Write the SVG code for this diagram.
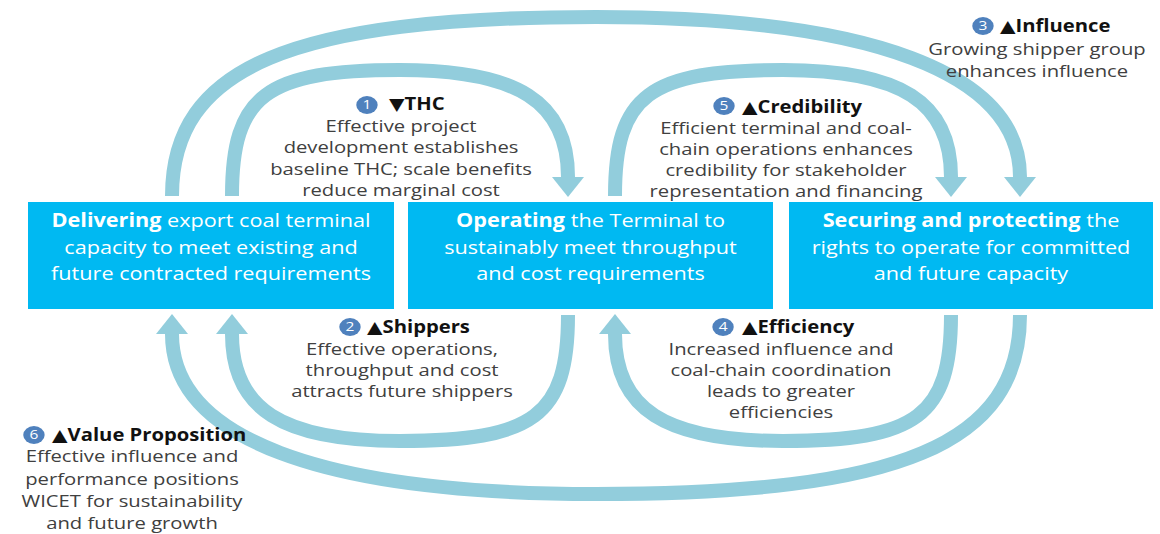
<svg xmlns="http://www.w3.org/2000/svg" width="1160" height="534" viewBox="0 0 1160 534">
<style>
.box{fill:#00B9F2;}
.bt{font-family:"Open Sans","Liberation Sans",sans-serif;font-size:19px;fill:#ffffff;text-anchor:middle;}
.bt .b{font-weight:bold;}
.lb{font-family:"Open Sans","Liberation Sans",sans-serif;font-size:17px;fill:#404040;text-anchor:middle;}
.tt{font-family:"Open Sans","DejaVu Sans",sans-serif;font-size:17px;font-weight:bold;fill:#111111;}
.badge{fill:#4F81BD;}
.num{font-family:"Open Sans","Liberation Sans",sans-serif;font-size:13px;fill:#ffffff;text-anchor:middle;}
.arc{fill:none;stroke:#92CDDC;stroke-width:14;marker-end:url(#ah);}
</style>
<defs>
<marker id="ah" markerUnits="userSpaceOnUse" markerWidth="22" markerHeight="34" viewBox="0 -17 22 34" refX="0" refY="0" orient="auto">
<path d="M0,-16 L20,0 L0,16 Z" fill="#92CDDC"/>
</marker>
</defs>
<rect width="1160" height="534" fill="#ffffff"/>

<g id="connectors">
<path class="arc" d="M172,196 C172,67 291,17 596,17 C872,17 1020,73 1020,177"/>
<path class="arc" d="M232,196 C232,95 266,70 400,70 C518,70 568,102 568,177"/>
<path class="arc" d="M615,196 C615,95 649,70 783,70 C901,70 951,102 951,177"/>
<path class="arc" d="M568,315 C568,416 534,441 400,441 C282,441 232,409 232,334"/>
<path class="arc" d="M951,315 C951,416 917,441 783,441 C665,441 615,409 615,334"/>
<path class="arc" d="M1020,315 C1020,444 901,494 596,494 C320,494 172,438 172,334"/>
</g>

<g id="node-delivering">
<rect class="box" x="28" y="202" width="366" height="107"/>
<g transform="translate(211,0) scale(1.14,1)">
<text class="bt" x="0" y="227"><tspan class="b">Delivering</tspan> export coal terminal</text>
<text class="bt" x="0" y="254">capacity to meet existing and</text>
<text class="bt" x="0" y="280">future contracted requirements</text>
</g>
</g>

<g id="node-operating">
<rect class="box" x="408" y="202" width="365" height="107"/>
<g transform="translate(590.5,0) scale(1.14,1)">
<text class="bt" x="0" y="227"><tspan class="b">Operating</tspan> the Terminal to</text>
<text class="bt" x="0" y="254">sustainably meet throughput</text>
<text class="bt" x="0" y="280">and cost requirements</text>
</g>
</g>

<g id="node-securing">
<rect class="box" x="789" y="202" width="364" height="107"/>
<g transform="translate(971,0) scale(1.14,1)">
<text class="bt" x="0" y="227"><tspan class="b">Securing and protecting</tspan> the</text>
<text class="bt" x="0" y="254">rights to operate for committed</text>
<text class="bt" x="0" y="280">and future capacity</text>
</g>
</g>

<g id="label-1" transform="translate(401,0) scale(1.19,1)">
<circle class="badge" cx="-28.6" cy="105" r="9"/>
<text class="num" x="-28.6" y="109.5">1</text>
<text class="tt" x="-10.1" y="110">▼THC</text>
<text class="lb" x="0" y="132">Effective project</text>
<text class="lb" x="0" y="153">development establishes</text>
<text class="lb" x="0" y="175">baseline THC; scale benefits</text>
<text class="lb" x="0" y="196">reduce marginal cost</text>
</g>

<g id="label-2" transform="translate(402,0) scale(1.19,1)">
<circle class="badge" cx="-43.7" cy="327" r="9"/>
<text class="num" x="-43.7" y="331.5">2</text>
<text class="tt" x="-29.4" y="333">▲Shippers</text>
<text class="lb" x="0" y="355">Effective operations,</text>
<text class="lb" x="0" y="376">throughput and cost</text>
<text class="lb" x="0" y="397">attracts future shippers</text>
</g>

<g id="label-3" transform="translate(1037,0) scale(1.19,1)">
<circle class="badge" cx="-45.4" cy="26" r="9"/>
<text class="num" x="-45.4" y="30.5">3</text>
<text class="tt" x="-31.1" y="32">▲Influence</text>
<text class="lb" x="0" y="55">Growing shipper group</text>
<text class="lb" x="0" y="77">enhances influence</text>
</g>

<g id="label-4" transform="translate(781,0) scale(1.19,1)">
<circle class="badge" cx="-48.7" cy="327" r="9"/>
<text class="num" x="-48.7" y="331.5">4</text>
<text class="tt" x="-32.8" y="333">▲Efficiency</text>
<text class="lb" x="0" y="355">Increased influence and</text>
<text class="lb" x="0" y="376">coal-chain coordination</text>
<text class="lb" x="0" y="397">leads to greater</text>
<text class="lb" x="0" y="418">efficiencies</text>
</g>

<g id="label-5" transform="translate(786,0) scale(1.19,1)">
<circle class="badge" cx="-52.1" cy="106" r="9"/>
<text class="num" x="-52.1" y="110.5">5</text>
<text class="tt" x="-37" y="113">▲Credibility</text>
<text class="lb" x="0" y="134">Efficient terminal and coal-</text>
<text class="lb" x="0" y="155">chain operations enhances</text>
<text class="lb" x="0" y="176">credibility for stakeholder</text>
<text class="lb" x="0" y="197">representation and financing</text>
</g>

<g id="label-6" transform="translate(132,0) scale(1.19,1)">
<circle class="badge" cx="-82.4" cy="435" r="9"/>
<text class="num" x="-82.4" y="439.5">6</text>
<text class="tt" x="-67.2" y="441">▲Value Proposition</text>
<text class="lb" x="0" y="462">Effective influence and</text>
<text class="lb" x="0" y="485">performance positions</text>
<text class="lb" x="0" y="507">WICET for sustainability</text>
<text class="lb" x="0" y="529">and future growth</text>
</g>
</svg>
